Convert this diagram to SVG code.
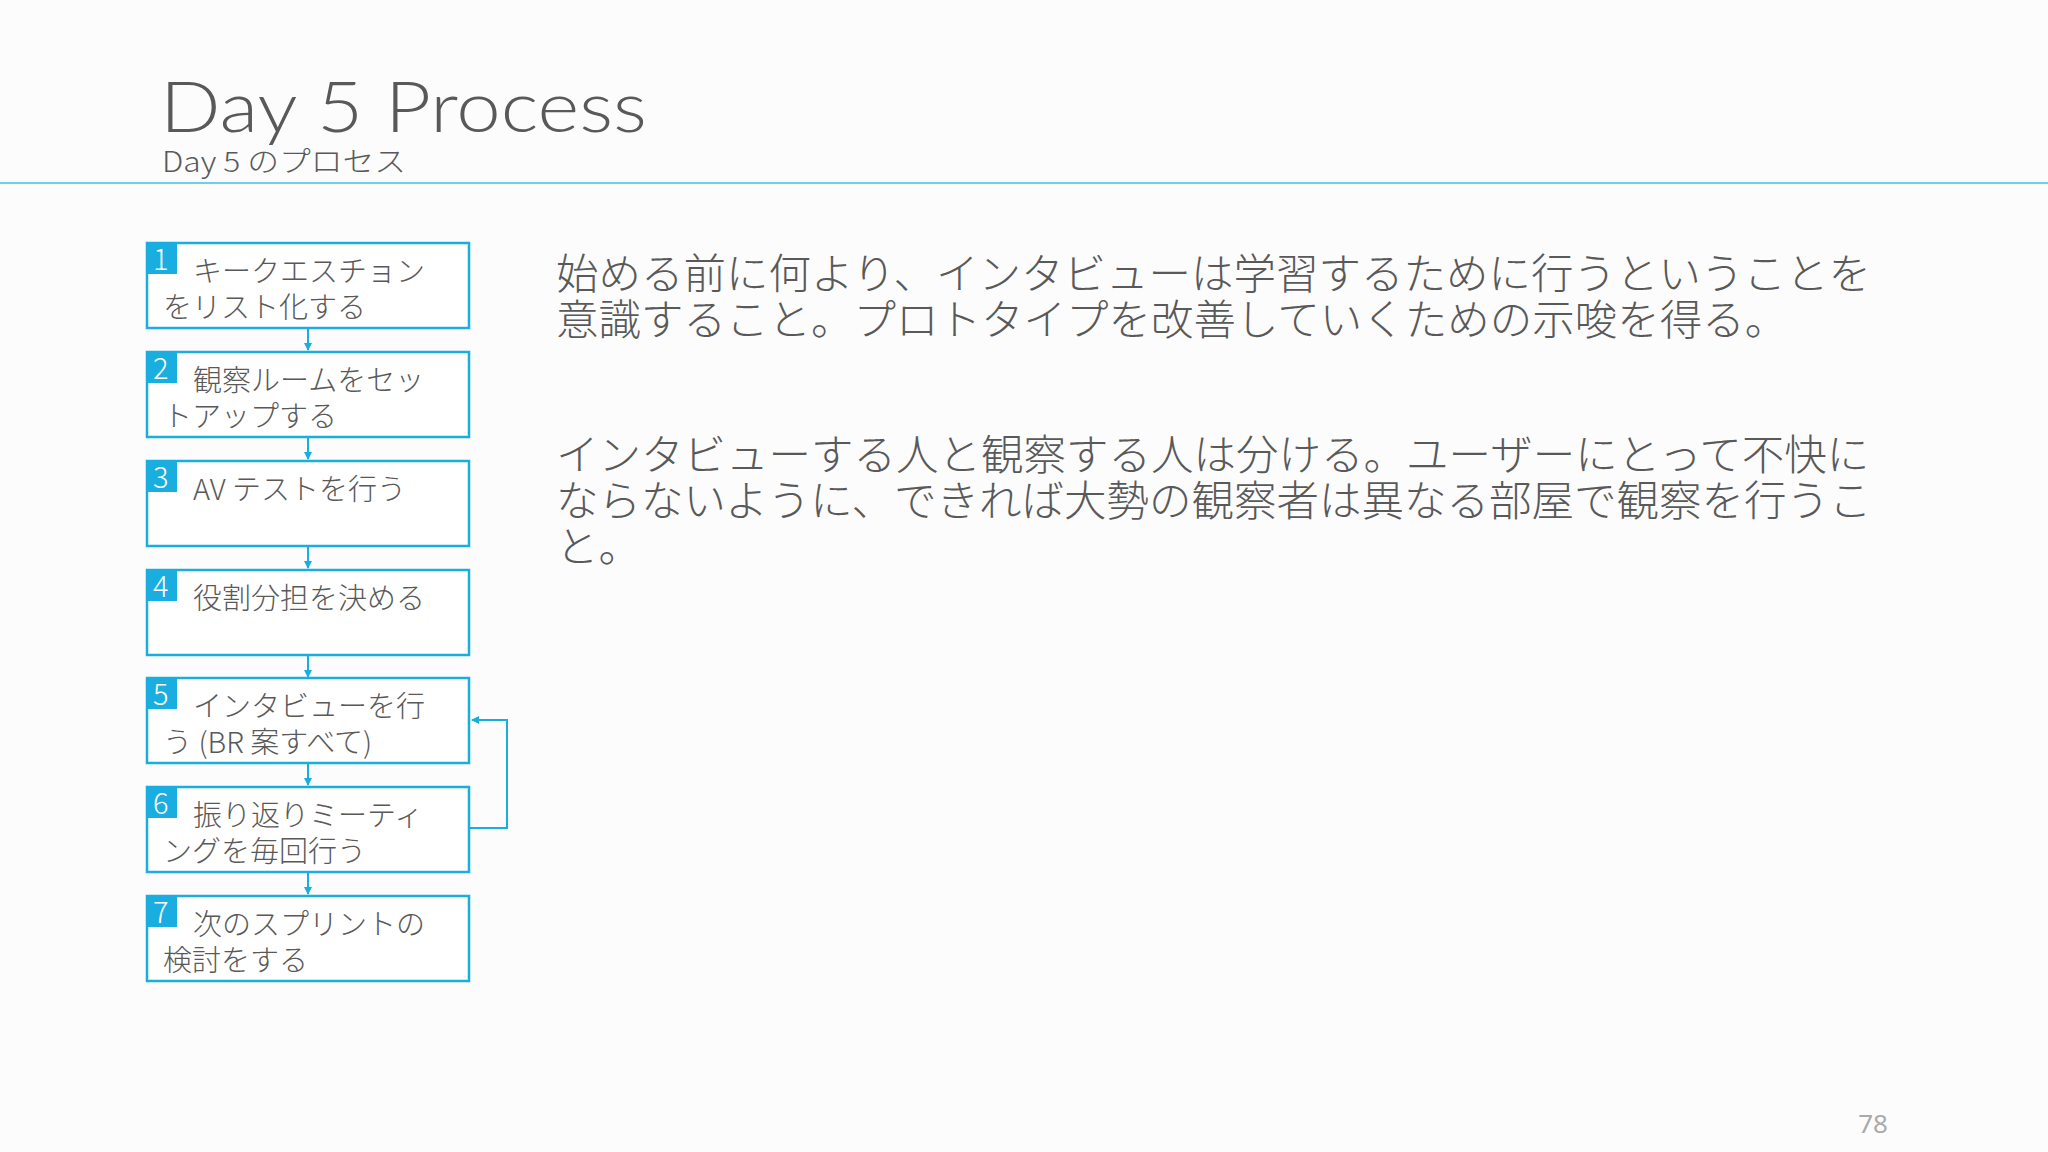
<svg xmlns="http://www.w3.org/2000/svg" width="2048" height="1152" viewBox="0 0 2048 1152">
<defs>
<style>
.t{font-family:"Noto Sans CJK JP","Liberation Sans",sans-serif;fill:#595959;font-weight:300;}
.box{fill:#fff;stroke:#1aaee0;stroke-width:2.5;}
.num{fill:#1aaee0;}
.n{font-family:"Noto Sans CJK JP","Liberation Sans",sans-serif;fill:#fff;font-size:29px;font-weight:300;}
.bt{font-size:29px;}
.c{stroke:#1aaee0;stroke-width:2;fill:none;}
</style>
<marker id="a" markerWidth="8" markerHeight="8" refX="7" refY="4" orient="auto" markerUnits="userSpaceOnUse" viewBox="0 0 8 8"><path d="M0,0L8,4L0,8z" fill="#1aaee0"/></marker>
</defs>
<rect width="2048" height="1152" fill="#fcfcfd"/>
<text x="160" y="132" font-size="70" font-family="Lato" font-weight="300" fill="#595959" textLength="487" lengthAdjust="spacingAndGlyphs">Day 5 Process</text>
<text class="t" x="162" y="172" font-size="28" textLength="244" lengthAdjust="spacingAndGlyphs">Day 5 のプロセス</text>
<line x1="0" y1="183" x2="2048" y2="183" stroke="#3cc0e8" stroke-width="1.5"/>
<g id="connectors">
<line class="c" x1="308" y1="328" x2="308" y2="350" marker-end="url(#a)"/>
<line class="c" x1="308" y1="437" x2="308" y2="459" marker-end="url(#a)"/>
<line class="c" x1="308" y1="546" x2="308" y2="568" marker-end="url(#a)"/>
<line class="c" x1="308" y1="655" x2="308" y2="677" marker-end="url(#a)"/>
<line class="c" x1="308" y1="763" x2="308" y2="785" marker-end="url(#a)"/>
<line class="c" x1="308" y1="872" x2="308" y2="894" marker-end="url(#a)"/>
<polyline class="c" points="469,828 507,828 507,720 472,720" marker-end="url(#a)"/>
</g>
<g id="n1"><rect class="box" x="147" y="243" width="322" height="85"/><rect class="num" x="147" y="243" width="30" height="31"/><text class="n" x="153" y="270">1</text><text class="t bt" x="193" y="282">キークエスチョン</text><text class="t bt" x="163" y="318">をリスト化する</text></g>
<g id="n2"><rect class="box" x="147" y="352" width="322" height="85"/><rect class="num" x="147" y="352" width="30" height="31"/><text class="n" x="153" y="379">2</text><text class="t bt" x="193" y="391">観察ルームをセッ</text><text class="t bt" x="163" y="427">トアップする</text></g>
<g id="n3"><rect class="box" x="147" y="461" width="322" height="85"/><rect class="num" x="147" y="461" width="30" height="31"/><text class="n" x="153" y="488">3</text><text class="t bt" x="193" y="500">AV テストを行う</text></g>
<g id="n4"><rect class="box" x="147" y="570" width="322" height="85"/><rect class="num" x="147" y="570" width="30" height="31"/><text class="n" x="153" y="597">4</text><text class="t bt" x="193" y="609">役割分担を決める</text></g>
<g id="n5"><rect class="box" x="147" y="678" width="322" height="85"/><rect class="num" x="147" y="678" width="30" height="31"/><text class="n" x="153" y="705">5</text><text class="t bt" x="193" y="717">インタビューを行</text><text class="t bt" x="163" y="753">う (BR 案すべて)</text></g>
<g id="n6"><rect class="box" x="147" y="787" width="322" height="85"/><rect class="num" x="147" y="787" width="30" height="31"/><text class="n" x="153" y="814">6</text><text class="t bt" x="193" y="826">振り返りミーティ</text><text class="t bt" x="163" y="862">ングを毎回行う</text></g>
<g id="n7"><rect class="box" x="147" y="896" width="322" height="85"/><rect class="num" x="147" y="896" width="30" height="31"/><text class="n" x="153" y="923">7</text><text class="t bt" x="193" y="935">次のスプリントの</text><text class="t bt" x="163" y="971">検討をする</text></g>
<g font-size="42.5">
<text class="t" x="556" y="289">始める前に何より、インタビューは学習するために行うということを</text>
<text class="t" x="556" y="335">意識すること。プロトタイプを改善していくための示唆を得る。</text>
<text class="t" x="556" y="470">インタビューする人と観察する人は分ける。ユーザーにとって不快に</text>
<text class="t" x="556" y="516">ならないように、できれば大勢の観察者は異なる部屋で観察を行うこ</text>
<text class="t" x="556" y="562">と。</text>
</g>
<text x="1873" y="1133" font-size="26" text-anchor="middle" font-family="Noto Sans" fill="#aaa">78</text>
</svg>
